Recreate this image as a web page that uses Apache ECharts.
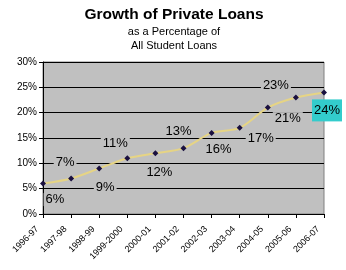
<!DOCTYPE html>
<html><head><meta charset="utf-8">
<script src="https://cdn.jsdelivr.net/npm/echarts@6/dist/echarts.min.js"></script>
<style>html,body{margin:0;padding:0;background:#fff}#c{width:346px;height:270px}</style>
</head><body><div id="c"></div>
<script>
const categories = ['1996-97','1997-98','1998-99','1999-2000','2000-01','2001-02','2002-03','2003-04','2004-05','2005-06','2006-07'];
const values = [6, 7, 9, 11, 12, 13, 16, 17, 21, 23, 24];
const yTicks = [0, 5, 10, 15, 20, 25, 30];
const labelOffsets = [[12,16],[-6,-16],[6,19],[-12,-15],[4,19],[-5,-17],[7,16],[21,11],[20,11],[-20,-12],[3,18]];

const font = 'Liberation Sans, Arial, sans-serif';
const data = values.map((v, i) => {
  const last = i === values.length - 1;
  return {
    value: v,
    label: {
      show: true,
      position: 'inside',
      align: 'center',
      verticalAlign: 'middle',
      offset: labelOffsets[i],
      formatter: '{c}%',
      fontFamily: font,
      fontSize: 13,
      color: '#000',
      backgroundColor: last ? '#33CCCC' : '#C0C0C0',
      padding: last ? [5, 2, 4, 2] : [0, 2]
    }
  };
});

const chart = echarts.init(document.getElementById('c'), null, {renderer: 'canvas'});
chart.setOption({
  animation: false,
  backgroundColor: '#fff',
  title: {
    text: 'Growth of Private Loans',
    subtext: 'as a Percentage of\nAll Student Loans',
    left: 169, textAlign: 'center', top: 2,
    itemGap: 2,
    textStyle: {fontFamily: font, fontWeight: 'bold', fontSize: 15.5, color: '#000'},
    subtextStyle: {fontFamily: font, fontSize: 11, color: '#000', lineHeight: 14}
  },
  grid: {
    left: 43, right: 22, top: 62, bottom: 56,
    show: true, backgroundColor: '#C0C0C0', borderColor: '#808080', borderWidth: 1
  },
  xAxis: {
    type: 'category', data: categories, boundaryGap: false,
    axisLine: {lineStyle: {color: '#000', width: 1}},
    axisTick: {show: true, length: 4, lineStyle: {color: '#000'}},
    axisLabel: {rotate: 45, fontFamily: font, fontSize: 9, color: '#000', margin: 8, padding: [0, 8, 0, 0], interval: 0}
  },
  yAxis: {
    type: 'value', min: 0, max: 30, interval: 5,
    axisLine: {show: true, lineStyle: {color: '#000', width: 1}},
    axisTick: {show: true, length: 4, lineStyle: {color: '#000'}},
    axisLabel: {formatter: '{value}%', fontFamily: font, fontSize: 10, color: '#000', margin: 6},
    splitLine: {show: true, lineStyle: {color: '#000', width: 1}}
  },
  series: [{
    type: 'line', data: data, smooth: 0.3,
    lineStyle: {color: '#E6D484', width: 2},
    symbol: 'diamond', symbolSize: 6,
    itemStyle: {color: '#1A1040'},
    z: 3
  }]
});
</script></body></html>
